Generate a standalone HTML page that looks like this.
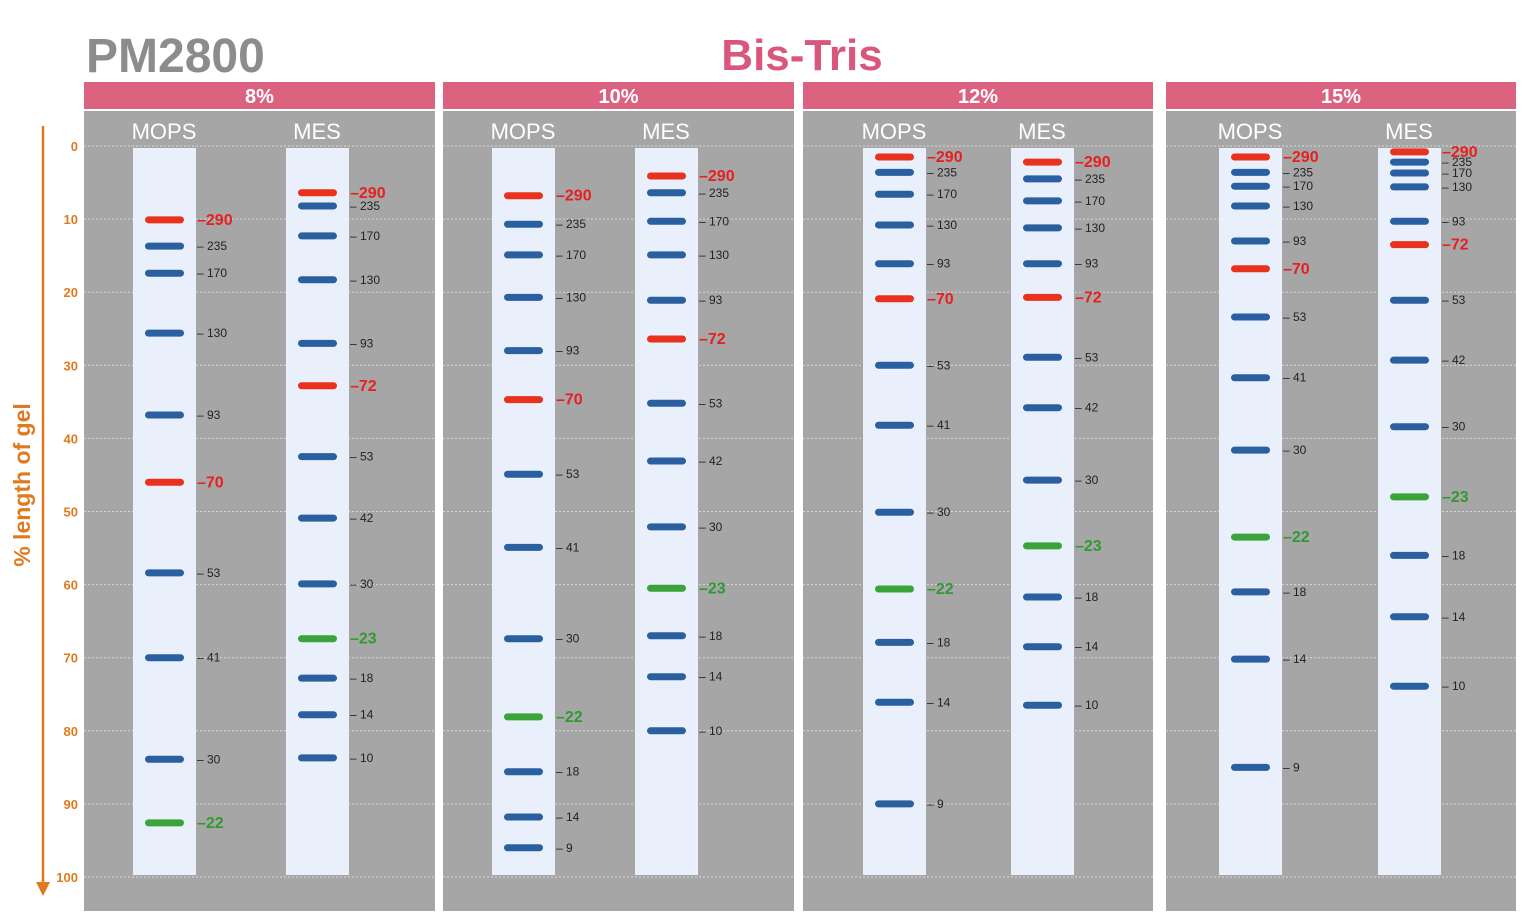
<!DOCTYPE html>
<html><head><meta charset="utf-8"><style>
body{margin:0;background:#fff;width:1529px;height:923px;overflow:hidden;font-family:"Liberation Sans",sans-serif}
svg{display:block}
</style></head><body>
<svg id="c" width="1529" height="923">
<text x="86" y="72" font-size="48" font-weight="bold" fill="#8c8c8c">PM2800</text>
<text x="802" y="70" font-size="44" font-weight="bold" fill="#d9577c" text-anchor="middle">Bis-Tris</text>
<text transform="translate(30,485) rotate(-90)" font-size="23" font-weight="bold" fill="#e07a1f" text-anchor="middle">% length of gel</text>
<line x1="43" y1="126" x2="43" y2="885" stroke="#e07a1f" stroke-width="2.5"/>
<polygon points="36,882 50,882 43,896" fill="#e07a1f"/>
<g id="g"></g>
</svg>
<script>
const panelTitles=["8%","10%","12%","15%"];
const laneNames=["MOPS","MES"];
const yTicks=[0,10,20,30,40,50,60,70,80,90,100];
const mopsLabels=[["290","235","170","130","93","70","53","41","30","22"],["290","235","170","130","93","70","53","41","30","22","18","14","9"],["290","235","170","130","93","70","53","41","30","22","18","14","9"],["290","235","170","130","93","70","53","41","30","22","18","14","9"]];
const mesLabels=["290","235","170","130","93","72","53","42","30","23","18","14","10"];
const mops8=[10.1,13.7,17.4,25.6,36.8,46,58.4,70,83.9,92.6];
const mes8=[6.4,8.2,12.3,18.3,27,32.8,42.5,50.9,59.9,67.4,72.8,77.8,83.7];
const mops10=[6.8,10.7,14.9,20.7,28,34.7,44.9,54.9,67.4,78.1,85.6,91.8,96];
const mes10=[4.1,6.4,10.3,14.9,21.1,26.4,35.2,43.1,52.1,60.5,67,72.6,80];
const mops12=[1.5,3.6,6.6,10.8,16.1,20.9,30,38.2,50.1,60.6,67.9,76.1,90];
const mes12=[2.2,4.5,7.5,11.2,16.1,20.7,28.9,35.8,45.7,54.7,61.7,68.5,76.5];
const mops15=[1.5,3.6,5.5,8.2,13,16.8,23.4,31.7,41.6,53.5,61,70.2,85];
const mes15=[0.8,2.2,3.7,5.6,10.3,13.5,21.1,29.3,38.4,48,56,64.4,73.9];
const mopsData=[mops8,mops10,mops12,mops15];
const mesData=[mes8,mes10,mes12,mes15];
const panelX=[[84,435],[443,794],[803,1153],[1166,1516]];
const laneX=[[133,286],[492,635],[863,1011],[1219,1378]];
const y=v=>146+v*7.31;
const NS="http://www.w3.org/2000/svg";
const g=document.getElementById('g');
function mk(t,a,p){const e=document.createElementNS(NS,t);for(const k in a)e.setAttribute(k,a[k]);(p||g).appendChild(e);return e;}
function col(l){if(l==="290"||l==="70"||l==="72")return["#e8321e","#e62020"];if(l==="22"||l==="23")return["#3aa33a","#2f9a2f"];return["#2a5fa0","#222"];}
panelX.forEach((p,i)=>{
  const h=mk('rect',{x:p[0],y:82,width:p[1]-p[0],height:27,fill:"#dc6380"});
  
  
  const t=mk('text',{x:(p[0]+p[1])/2,y:103,'font-size':20,'font-weight':'bold',fill:'#fff','text-anchor':'middle'});
  t.textContent=panelTitles[i];
  
  
  const r=mk('rect',{x:p[0],y:111,width:p[1]-p[0],height:800,fill:"#a6a6a6"});
  
  
  yTicks.forEach(v=>{const l=mk('line',{x1:p[0],x2:p[1],y1:y(v),y2:y(v),stroke:'#d8d8d8','stroke-width':1,'stroke-dasharray':'2,2'});
    
    });
  [0,1].forEach(j=>{
    const lx=laneX[i][j];
    const ln=mk('rect',{x:lx,y:148,width:63,height:727,fill:"#eaf0fb"});
    
    
    const lt=mk('text',{x:lx+31,y:139,'font-size':22,fill:'#fff','text-anchor':'middle'});
    lt.textContent=laneNames[j];
    
    
    const vals=j?mesData[i]:mopsData[i];const labs=j?mesLabels:mopsLabels[i];
    vals.forEach((v,k)=>{
      const c=col(labs[k]);const big=c[0]!=="#2a5fa0";
      const b=mk('rect',{x:lx+12,y:y(v)-3.5,width:39,height:7,rx:3.5,fill:c[0]});
      
      
      const tx=mk('text',{x:lx+64,y:y(v)+(big?5:4),'font-size':big?16:12,'font-weight':big?'bold':'normal',fill:c[1]});
      tx.textContent=(big?"–":"– ")+labs[k];
      
      
    });
  });
});
yTicks.forEach(v=>{const t=mk('text',{x:78,y:y(v)+5,'font-size':13,'font-weight':'bold',fill:'#e07a1f','text-anchor':'end'});
  t.textContent=v;
  
  });
</script>
</body></html>
